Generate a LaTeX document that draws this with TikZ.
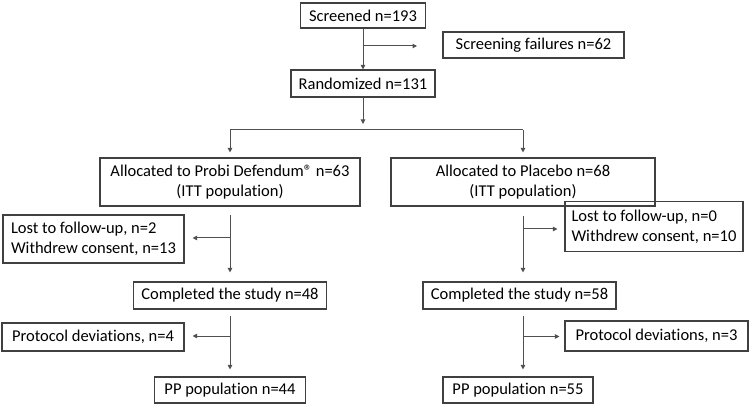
\documentclass[tikz,border=0pt]{standalone}
\usepackage{fontspec}
\setmainfont{Carlito}[Ligatures=NoCommon]
\usetikzlibrary{arrows.meta}
\definecolor{boxc}{HTML}{404040}
\definecolor{linec}{HTML}{505050}
\begin{document}
\begin{tikzpicture}[x=1pt,y=-1pt,
  box/.style={draw=boxc, line width=1.1pt, inner sep=0pt, align=center,
    font=\fontsize{16.5}{20}\selectfont, text=black},
  lbox/.style={box, align=left},
  conn/.style={draw=linec, line width=1pt},
  arr/.style={conn, -{Triangle[length=4.5pt,width=4.5pt]}}]
\useasboundingbox (0,0) rectangle (750,406);

% nodes
\node[box, minimum width=125pt, minimum height=25pt] (scr) at (363,15.5) {Screened n=193};
\node[box, minimum width=181pt, minimum height=26pt] (fail) at (533.5,45) {Screening failures n=62};
\node[box, minimum width=144pt, minimum height=27pt] (rand) at (363,83.5) {Randomized n=131};
\node[box, minimum width=260pt, minimum height=48pt] (allocL) at (230,182) {Allocated to Probi Defendum® n=63\\(ITT population)};
\node[box, minimum width=264pt, minimum height=48pt] (allocR) at (523,182) {Allocated to Placebo n=68\\(ITT population)};
\node[lbox, minimum width=181pt, minimum height=48pt] (lostL) at (93.5,239) {Lost to follow-up, n=2\\Withdrew consent, n=13};
\node[lbox, minimum width=178pt, minimum height=50pt] (lostR) at (654,226.5) {Lost to follow-up, n=0\\Withdrew consent, n=10};
\node[box, minimum width=193pt, minimum height=27pt] (compL) at (230,295.5) {Completed the study n=48};
\node[box, minimum width=193pt, minimum height=27pt] (compR) at (519.5,295.5) {Completed the study n=58};
\node[box, minimum width=182pt, minimum height=28pt] (protL) at (93,337) {Protocol deviations, n=4};
\node[box, minimum width=183pt, minimum height=30pt] (protR) at (656.5,336) {Protocol deviations, n=3};
\node[box, minimum width=151pt, minimum height=26pt] (ppL) at (230,390) {PP population n=44};
\node[box, minimum width=150pt, minimum height=26pt] (ppR) at (518,390) {PP population n=55};

% helper coordinates
\coordinate (fb) at (363,46);
\coordinate (ft) at (417,46);
\coordinate (rt) at (363,124);
\coordinate (hl) at (230,130);
\coordinate (hr) at (523,130);
\coordinate (tR) at (523,0);
\coordinate (lb) at (230,238);
\coordinate (rb) at (523,229);
\coordinate (lb2) at (230,336);
\coordinate (rb2) at (523,336.5);

% connectors
\draw[arr] (scr) -- (rand);
\draw[arr] (fb) -- (ft);
\draw[arr] (rand) -- (rt);
\draw[conn] (hl) -- (hr);
\draw[arr, shorten >=5pt] (hl) -- (allocL.north);
\draw[arr, shorten >=5pt] (hr) -- (allocR.north);

\draw[arr, shorten <=8pt, shorten >=9pt] (allocL) -- (compL);
\draw[arr, shorten >=8pt] (lb) -- (lb -| lostL.east);
\draw[arr, shorten <=6pt, shorten >=7pt] (compL) -- (ppL);
\draw[arr, shorten >=8pt] (lb2) -- (lb2 -| protL.east);

\draw[arr, shorten <=9pt, shorten >=9pt] (allocR.south) -- (tR |- compR.north);
\draw[arr, shorten >=7pt] (rb) -- (rb -| lostR.west);
\draw[arr, shorten <=6pt, shorten >=7pt] (tR |- compR.south) -- (tR |- ppR.north);
\draw[arr, shorten >=5pt] (rb2) -- (rb2 -| protR.west);
\end{tikzpicture}
\end{document}
